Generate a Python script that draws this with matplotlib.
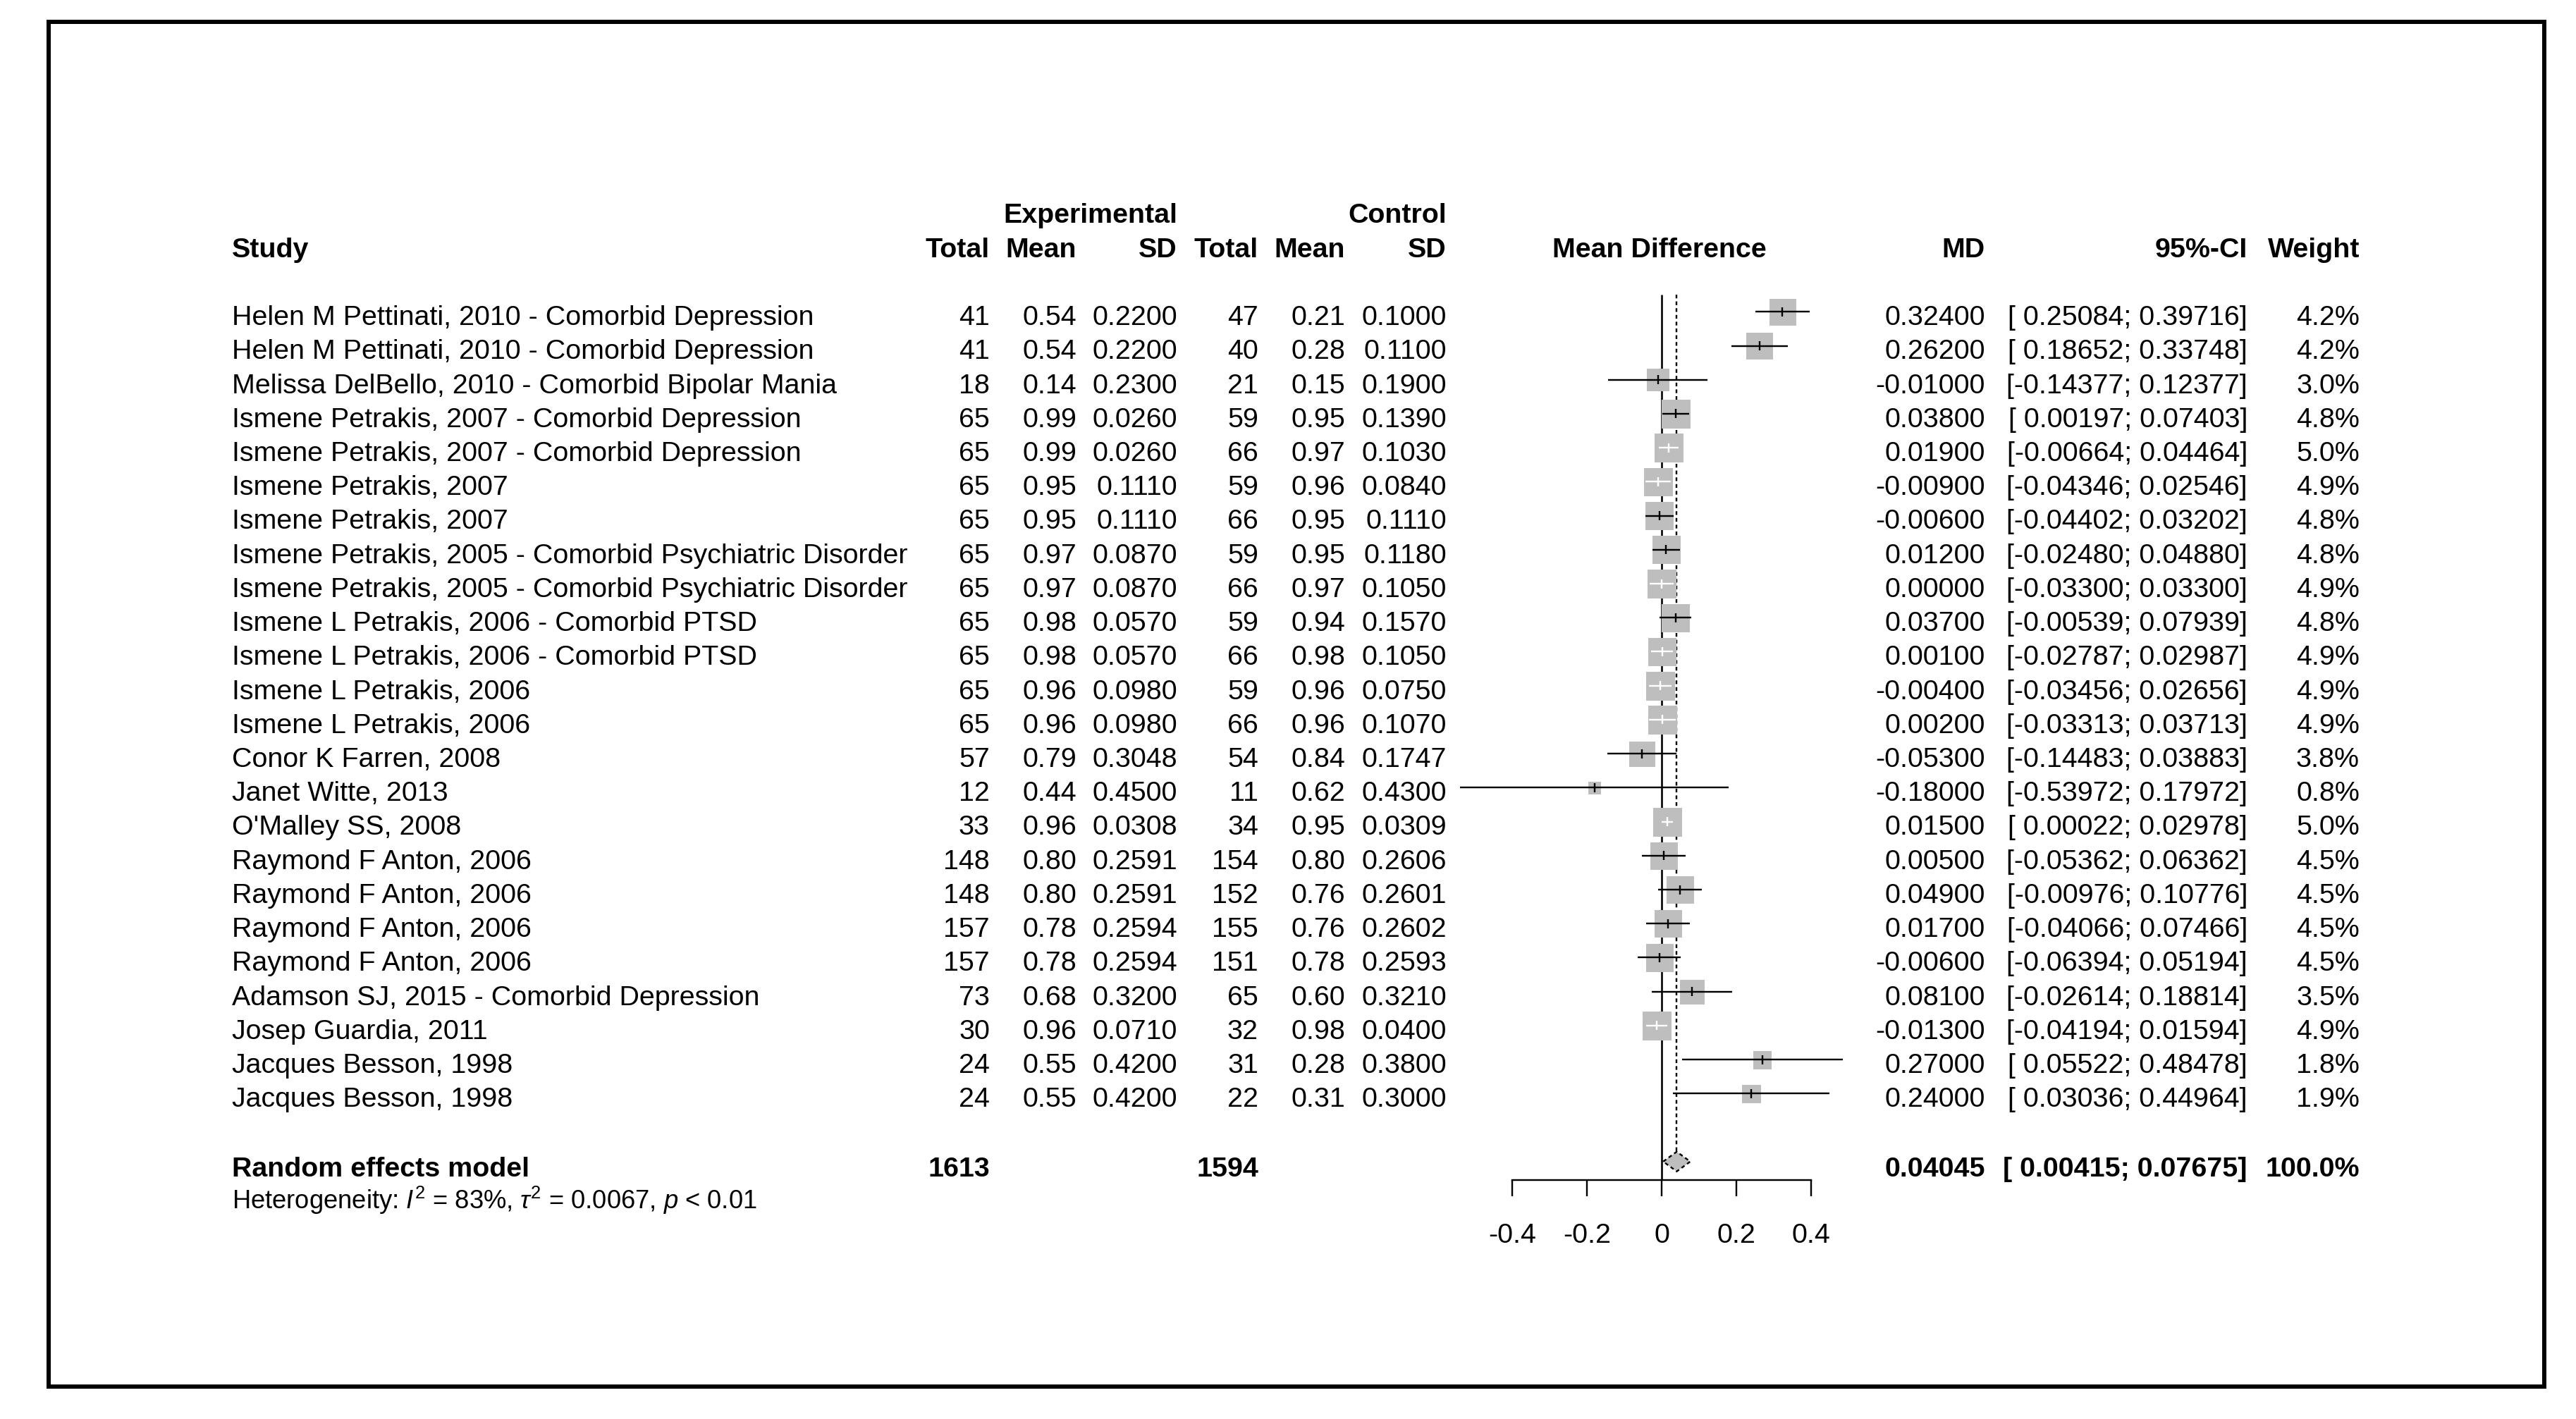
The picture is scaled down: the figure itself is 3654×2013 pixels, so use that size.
import numpy as np
import matplotlib.pyplot as plt
from matplotlib.patches import Rectangle, Polygon

plt.rcParams['font.family'] = ['Liberation Sans', 'DejaVu Sans']
plt.rcParams['axes.unicode_minus'] = False
plt.rcParams['mathtext.fontset'] = 'custom'
plt.rcParams['mathtext.rm'] = 'Liberation Sans'
plt.rcParams['mathtext.it'] = 'Liberation Sans:italic'
plt.rcParams['mathtext.bf'] = 'Liberation Sans:bold'

# ---- data ----
studies = [
    "Helen M Pettinati, 2010 - Comorbid Depression",
    "Helen M Pettinati, 2010 - Comorbid Depression",
    "Melissa DelBello, 2010 - Comorbid Bipolar Mania",
    "Ismene Petrakis, 2007 - Comorbid Depression",
    "Ismene Petrakis, 2007 - Comorbid Depression",
    "Ismene Petrakis, 2007",
    "Ismene Petrakis, 2007",
    "Ismene Petrakis, 2005 - Comorbid Psychiatric Disorder",
    "Ismene Petrakis, 2005 - Comorbid Psychiatric Disorder",
    "Ismene L Petrakis, 2006 - Comorbid PTSD",
    "Ismene L Petrakis, 2006 - Comorbid PTSD",
    "Ismene L Petrakis, 2006",
    "Ismene L Petrakis, 2006",
    "Conor K Farren, 2008",
    "Janet Witte, 2013",
    "O'Malley SS, 2008",
    "Raymond F Anton, 2006",
    "Raymond F Anton, 2006",
    "Raymond F Anton, 2006",
    "Raymond F Anton, 2006",
    "Adamson SJ, 2015 - Comorbid Depression",
    "Josep Guardia, 2011",
    "Jacques Besson, 1998",
    "Jacques Besson, 1998",
]
exp_n = [41, 41, 18, 65, 65, 65, 65, 65, 65, 65, 65, 65, 65, 57, 12, 33,
         148, 148, 157, 157, 73, 30, 24, 24]
exp_mean = [0.54, 0.54, 0.14, 0.99, 0.99, 0.95, 0.95, 0.97, 0.97, 0.98, 0.98,
            0.96, 0.96, 0.79, 0.44, 0.96, 0.80, 0.80, 0.78, 0.78, 0.68, 0.96,
            0.55, 0.55]
exp_sd = [0.2200, 0.2200, 0.2300, 0.0260, 0.0260, 0.1110, 0.1110, 0.0870,
          0.0870, 0.0570, 0.0570, 0.0980, 0.0980, 0.3048, 0.4500, 0.0308,
          0.2591, 0.2591, 0.2594, 0.2594, 0.3200, 0.0710, 0.4200, 0.4200]
ctl_n = [47, 40, 21, 59, 66, 59, 66, 59, 66, 59, 66, 59, 66, 54, 11, 34,
         154, 152, 155, 151, 65, 32, 31, 22]
ctl_mean = [0.21, 0.28, 0.15, 0.95, 0.97, 0.96, 0.95, 0.95, 0.97, 0.94, 0.98,
            0.96, 0.96, 0.84, 0.62, 0.95, 0.80, 0.76, 0.76, 0.78, 0.60, 0.98,
            0.28, 0.31]
ctl_sd = [0.1000, 0.1100, 0.1900, 0.1390, 0.1030, 0.0840, 0.1110, 0.1180,
          0.1050, 0.1570, 0.1050, 0.0750, 0.1070, 0.1747, 0.4300, 0.0309,
          0.2606, 0.2601, 0.2602, 0.2593, 0.3210, 0.0400, 0.3800, 0.3000]
md = [0.32400, 0.26200, -0.01000, 0.03800, 0.01900, -0.00900, -0.00600,
      0.01200, 0.00000, 0.03700, 0.00100, -0.00400, 0.00200, -0.05300,
      -0.18000, 0.01500, 0.00500, 0.04900, 0.01700, -0.00600, 0.08100,
      -0.01300, 0.27000, 0.24000]
ci_lo = [0.25084, 0.18652, -0.14377, 0.00197, -0.00664, -0.04346, -0.04402,
         -0.02480, -0.03300, -0.00539, -0.02787, -0.03456, -0.03313, -0.14483,
         -0.53972, 0.00022, -0.05362, -0.00976, -0.04066, -0.06394, -0.02614,
         -0.04194, 0.05522, 0.03036]
ci_hi = [0.39716, 0.33748, 0.12377, 0.07403, 0.04464, 0.02546, 0.03202,
         0.04880, 0.03300, 0.07939, 0.02987, 0.02656, 0.03713, 0.03883,
         0.17972, 0.02978, 0.06362, 0.10776, 0.07466, 0.05194, 0.18814,
         0.01594, 0.48478, 0.44964]
weight = [4.2, 4.2, 3.0, 4.8, 5.0, 4.9, 4.8, 4.8, 4.9, 4.8, 4.9, 4.9, 4.9, 3.8,
          0.8, 5.0, 4.5, 4.5, 4.5, 4.5, 3.5, 4.9, 1.8, 1.9]

re_label = "Random effects model"
re_n_exp, re_n_ctl = 1613, 1594
re_md, re_lo, re_hi = 0.04045, 0.00415, 0.07675
het_text = r"Heterogeneity: $I^2$ = 83%, $\tau^2$ = 0.0067, $p$ < 0.01"
xticks = [-0.4, -0.2, 0, 0.2, 0.4]

# ---- layout (pixels of the 3655x2013 canvas) ----
W, H, DPI = 3655, 2013, 100
ROW0 = 442.3      # y pixel of first study row
ROWH = 48.22      # row height in pixels
ZERO = 2357       # x pixel of MD = 0
UNIT = 529.2      # pixels per MD unit
PT = 72 / DPI     # points per pixel
FS = 28.4
BASE = 0.39       # baseline offset below row centre, in rows

col_study = 329
col_right = dict(en=1404, em=1527, es=1670, cn=1785, cm=1908, cs=2052,
                 md=2816, ci=3188, w=3347)

n = len(studies)
rows = np.arange(1, n + 1)
re_row = n + 2
het_row = n + 3
ylim = (1 + (H - ROW0) / ROWH, 1 - ROW0 / ROWH)

fig = plt.figure(figsize=(W / DPI, H / DPI), dpi=DPI)
ax = fig.add_axes([0, 0, 1, 1])
ax.set_xlim(0, W)
ax.set_ylim(*ylim)
ax.axis('off')

fax = fig.add_axes([0, 0, 1, 1])
fax.set_xlim(-ZERO / UNIT, (W - ZERO) / UNIT)
fax.set_ylim(*ylim)
fax.patch.set_visible(False)
for s in ['left', 'right', 'top']:
    fax.spines[s].set_visible(False)

px_x = 1 / UNIT
px_y = 1 / ROWH
lw = 2.4 * PT


def txt(x, y, s, ha='right', bold=False, size=FS):
    ax.text(x, y + BASE, s, ha=ha, va='baseline', fontsize=size,
            fontweight='bold' if bold else 'normal')


# headers
txt(col_right['es'], -2, "Experimental", bold=True)
txt(col_right['cs'], -2, "Control", bold=True)
txt(col_study, -1, "Study", ha='left', bold=True)
for key, lab in [('en', 'Total'), ('em', 'Mean'), ('es', 'SD'),
                 ('cn', 'Total'), ('cm', 'Mean'), ('cs', 'SD'),
                 ('md', 'MD'), ('ci', '95%-CI'), ('w', 'Weight')]:
    txt(col_right[key], -1, lab, bold=True)
txt(2354, -1, "Mean Difference", ha='center', bold=True)

# study rows
for i, y in enumerate(rows):
    txt(col_study, y, studies[i], ha='left')
    txt(col_right['en'], y, f"{exp_n[i]}")
    txt(col_right['em'], y, f"{exp_mean[i]:.2f}")
    txt(col_right['es'], y, f"{exp_sd[i]:.4f}")
    txt(col_right['cn'], y, f"{ctl_n[i]}")
    txt(col_right['cm'], y, f"{ctl_mean[i]:.2f}")
    txt(col_right['cs'], y, f"{ctl_sd[i]:.4f}")
    txt(col_right['md'], y, f"{md[i]:.5f}")
    txt(col_right['ci'], y, f"[{ci_lo[i]:8.5f};{ci_hi[i]:8.5f}]")
    txt(col_right['w'], y, f"{weight[i]:.1f}%")

# pooled row
txt(col_study, re_row + 0.04, re_label, ha='left', bold=True)
txt(col_right['en'], re_row + 0.04, f"{re_n_exp}", bold=True)
txt(col_right['cn'], re_row + 0.04, f"{re_n_ctl}", bold=True)
txt(col_right['md'], re_row + 0.04, f"{re_md:.5f}", bold=True)
txt(col_right['ci'], re_row + 0.04, f"[{re_lo:8.5f};{re_hi:8.5f}]", bold=True)
txt(col_right['w'], re_row + 0.04, "100.0%", bold=True)
txt(col_study, het_row, het_text, ha='left', size=26.2)

# forest graphics
axis_y = re_row + 0.55
dia_h = 14 * px_y
fax.plot([0, 0], [0.5, axis_y], color='black', lw=2.6 * PT, zorder=1,
         solid_capstyle='butt')
fax.plot([re_md, re_md], [0.5, re_row - dia_h], color='black', lw=lw,
         ls=(0, (2.2, 1.8)), zorder=1)

wmax = max(weight)
gray = '#BEBEBE'
edge_px = 3
for i, y in enumerate(rows):
    s_in = 38 * np.sqrt(weight[i] / wmax)
    sx, sy = s_in * px_x, s_in * px_y
    fax.add_patch(Rectangle((md[i] - sx / 2, y - sy / 2), sx, sy, fc=gray,
                            ec=gray, lw=edge_px * PT, zorder=2))
    inside = ci_lo[i] > md[i] - sx / 2 and ci_hi[i] < md[i] + sx / 2
    c = 'white' if inside else 'black'
    fax.plot([ci_lo[i], ci_hi[i]], [y, y], color=c, lw=lw, zorder=3,
             solid_capstyle='butt')
    fax.plot([md[i], md[i]], [y - 6.5 * px_y, y + 6.5 * px_y], color=c,
             lw=lw, zorder=3, solid_capstyle='butt')

fax.add_patch(Polygon([(re_lo, re_row), (re_md, re_row - dia_h),
                       (re_hi, re_row), (re_md, re_row + dia_h)],
                      closed=True, fc=gray, ec='black', lw=lw,
                      ls=(0, (2.2, 1.8)), zorder=3))

fax.spines['bottom'].set_position(('data', axis_y))
fax.spines['bottom'].set_bounds(xticks[0], xticks[-1])
fax.spines['bottom'].set_linewidth(lw)
fax.set_xticks(xticks)
fax.set_xticklabels([f"{t:g}" for t in xticks])
fax.set_yticks([])
fax.tick_params(axis='x', direction='out', length=23 * PT, width=lw,
                pad=26.9, labelsize=FS)

# frame around the whole picture
fig.add_artist(Rectangle((69.5 / W, 1 - 1966.7 / H), (3608.7 - 69.5) / W,
                         (1966.7 - 31.3) / H, transform=fig.transFigure,
                         fill=False, ec='black', lw=6 * PT, joinstyle='miter'))

fig.savefig('out.png', dpi=DPI)
